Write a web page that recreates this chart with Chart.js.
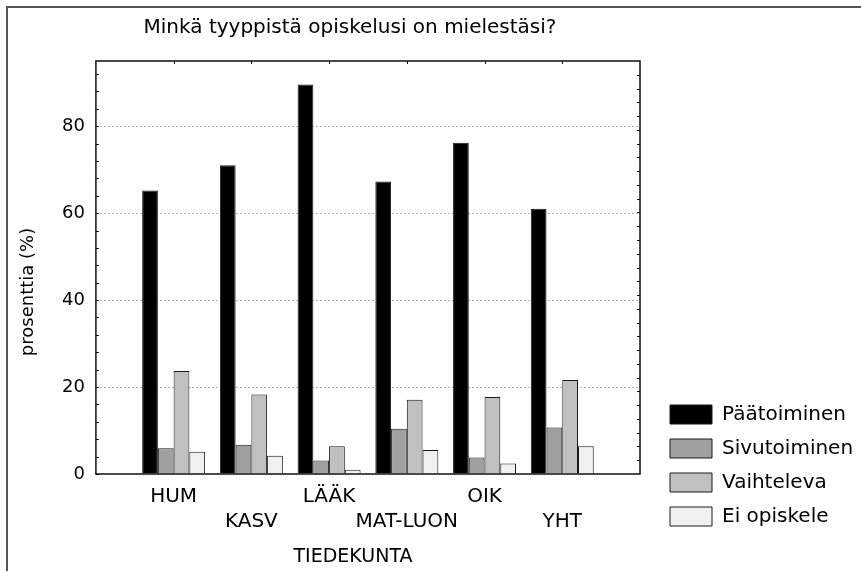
<!DOCTYPE html>
<html><head><meta charset="utf-8">
<script src="https://cdn.jsdelivr.net/npm/chart.js@4/dist/chart.umd.min.js"></script>
<style>html,body{margin:0;padding:0;background:#fff}#wrap{width:861px;height:571px;position:relative}</style>
</head><body><div id="wrap"><canvas id="c" width="861" height="571"></canvas></div>
<script>
const chartTitle = 'Minkä tyyppistä opiskelusi on mielestäsi?';
const xTitle = 'TIEDEKUNTA';
const yTitle = 'prosenttia (%)';
const categories = ['HUM', 'KASV', 'LÄÄK', 'MAT-LUON', 'OIK', 'YHT'];
const seriesNames = ['Päätoiminen', 'Sivutoiminen', 'Vaihteleva', 'Ei opiskele'];
const paatoiminen = [65.2, 71.0, 89.6, 67.3, 76.2, 61.0];
const sivutoiminen = [5.9, 6.7, 3.1, 10.4, 3.8, 10.7];
const vaihteleva = [23.7, 18.3, 6.4, 17.1, 17.7, 21.6];
const eiOpiskele = [5.1, 4.2, 1.0, 5.5, 2.4, 6.4];
const yTicks = [0, 20, 40, 60, 80];
const yMax = 95;

const FONT = 'DejaVu Sans';
Chart.defaults.font.family = FONT;
Chart.defaults.color = '#000';

const fills = ['#000000', '#a0a0a0', '#c0c0c0', '#f0f0f0'];
const series = [paatoiminen, sivutoiminen, vaihteleva, eiOpiskele];
const padded = arr => [null, ...arr, null];

const deco = {
  id: 'deco',
  beforeDraw(chart) {
    const ctx = chart.ctx;
    ctx.save();
    ctx.fillStyle = '#fff';
    ctx.fillRect(0, 0, chart.width, chart.height);
    ctx.fillStyle = '#555';
    ctx.fillRect(6, 6, 2, chart.height);
    ctx.fillRect(6, 6, chart.width, 2);
    ctx.restore();
  },
  afterLayout(chart) {
    const lg = chart.legend, a = chart.chartArea;
    const h = lg.height;
    lg.left = a.right + 16; lg.right = chart.width; lg.width = lg.right - lg.left;
    lg.bottom = a.bottom + 66.5; lg.top = lg.bottom - h;
  },
  afterDatasetsDraw(chart) {
    const ctx = chart.ctx, a = chart.chartArea;
    const ys = chart.scales.y, xs = chart.scales.x;
    ctx.save();
    ctx.strokeStyle = '#111';
    ctx.lineWidth = 1;
    ctx.beginPath();
    for (let v = 0; v <= yMax; v += 4) {
      const y = Math.round(ys.getPixelForValue(v)) + 0.5;
      ctx.moveTo(a.left, y); ctx.lineTo(a.left + 3, y);
    }
    for (let k = 1; k < 30; k++) {
      const y = Math.round(ys.getPixelForValue(k * yMax / 30)) + 0.5;
      ctx.moveTo(a.right, y); ctx.lineTo(a.right - 3, y);
    }
    for (let i = 0; i < categories.length; i++) {
      const x = Math.round(xs.getPixelForValue(i + 1)) + 0.5;
      ctx.moveTo(x, a.top); ctx.lineTo(x, a.top + 3);
    }
    ctx.stroke();
    ctx.lineWidth = 1.5;
    ctx.strokeStyle = '#111';
    ctx.strokeRect(a.left, a.top, a.right - a.left, a.bottom - a.top);
    ctx.restore();
  },
  afterDraw(chart) {
    const ctx = chart.ctx;
    ctx.save();
    ctx.fillStyle = '#000';
    ctx.textAlign = 'center';
    ctx.textBaseline = 'alphabetic';
    ctx.font = '20px "' + FONT + '"';
    ctx.fillText(chartTitle, 350, 33);
    ctx.textBaseline = 'middle';
    ctx.font = '19px "' + FONT + '"';
    ctx.fillText(xTitle, 353, 557);
    ctx.translate(28, 292);
    ctx.rotate(-Math.PI / 2);
    ctx.font = '18px "' + FONT + '"';
    ctx.fillText(yTitle, 0, 0);
    ctx.restore();
  }
};

new Chart(document.getElementById('c'), {
  type: 'bar',
  data: {
    labels: ['', ...categories, ''],
    datasets: seriesNames.map((name, k) => ({
      label: name,
      data: padded(series[k]),
      backgroundColor: fills[k],
      borderColor: '#1a1a1a',
      borderWidth: 1,
      xAxisID: 'x',
      yAxisID: 'y',
      categoryPercentage: 0.81,
      barPercentage: 1.0
    }))
  },
  options: {
    responsive: false,
    animation: false,
    devicePixelRatio: 1,
    layout: { padding: { left: 51, right: 71, top: 61, bottom: 27 } },
    plugins: {
      title: { display: false },
      tooltip: { enabled: false },
      legend: {
        position: 'right',
        align: 'end',
        maxWidth: 150,
        labels: {
          boxWidth: 42, boxHeight: 19, padding: 14, color: '#000',
          font: { family: FONT, size: 20 }
        }
      }
    },
    scales: {
      x: { type: 'category', display: false, offset: false },
      xl: {
        type: 'linear', position: 'bottom', min: 0, max: categories.length + 1, offset: false,
        grid: { display: false, drawTicks: false, offset: false }, border: { display: false },
        afterBuildTicks: s => { s.ticks = categories.map((c, i) => ({ value: i + 1 })); },
        ticks: {
          autoSkip: false, maxRotation: 0, minRotation: 0, padding: 10, color: '#000',
          font: { family: FONT, size: 20, lineHeight: 1.25 },
          callback: v => {
            const i = Math.round(v) - 1;
            return i % 2 === 0 ? [categories[i], ''] : ['', categories[i]];
          }
        }
      },
      y: {
        min: 0, max: yMax,
        afterBuildTicks: s => { s.ticks = yTicks.map(v => ({ value: v })); },
        grid: {
          color: ctx => (ctx.tick && ctx.tick.value === 0) ? 'rgba(0,0,0,0)' : '#b4b4b4',
          lineWidth: 1, drawTicks: false
        },
        border: { display: false, dash: [2, 2] },
        ticks: { padding: 11, color: '#000', font: { family: FONT, size: 18 } }
      }
    }
  },
  plugins: [deco]
});
</script></body></html>
